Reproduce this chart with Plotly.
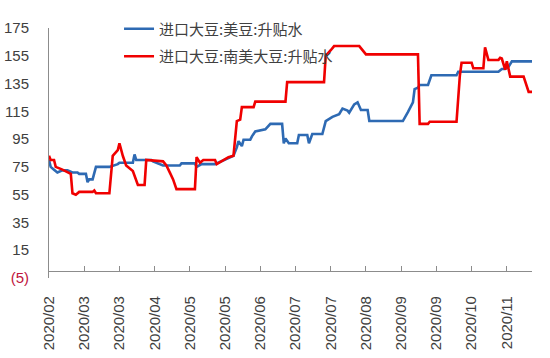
import plotly.graph_objects as go
from datetime import date, timedelta

# ---- data ----
us_name = "进口大豆:美豆:升贴水"
sa_name = "进口大豆:南美大豆:升贴水"

us_dates = [
    "2020-02-10", "2020-02-11", "2020-02-13", "2020-02-15", "2020-02-18", "2020-02-21",
    "2020-02-24", "2020-02-27", "2020-02-28", "2020-03-03", "2020-03-04", "2020-03-05",
    "2020-03-07", "2020-03-09", "2020-03-17", "2020-03-22", "2020-03-23", "2020-03-31",
    "2020-04-01", "2020-04-02", "2020-04-11", "2020-04-12", "2020-04-18", "2020-04-28",
    "2020-04-29", "2020-05-07", "2020-05-08", "2020-05-11", "2020-05-19", "2020-05-21",
    "2020-05-24", "2020-05-28", "2020-05-30", "2020-06-01", "2020-06-02", "2020-06-04",
    "2020-06-05", "2020-06-09", "2020-06-10", "2020-06-12", "2020-06-15", "2020-06-18",
    "2020-06-21", "2020-06-28", "2020-06-29", "2020-06-30", "2020-07-02", "2020-07-07",
    "2020-07-08", "2020-07-13", "2020-07-14", "2020-07-16", "2020-07-22", "2020-07-24",
    "2020-07-28", "2020-08-01", "2020-08-03", "2020-08-06", "2020-08-07", "2020-08-10",
    "2020-08-12", "2020-08-14", "2020-08-18", "2020-08-19", "2020-09-08", "2020-09-10",
    "2020-09-11", "2020-09-14", "2020-09-15", "2020-09-17", "2020-09-18", "2020-09-23",
    "2020-09-25", "2020-10-10", "2020-10-11", "2020-11-04", "2020-11-06", "2020-11-08",
    "2020-11-10", "2020-11-12", "2020-11-24",
]
us_values = [
    80, 75, 73, 71, 72.5, 72.5,
    71, 71, 70, 70, 64, 66,
    66, 75, 75, 77, 78, 78,
    84, 80, 80, 79, 76, 76,
    77.5, 77.5, 75, 77, 77, 78,
    79.5, 82, 83, 89, 93.5, 90,
    94.5, 94.5, 97, 100.5, 101.5, 102,
    106, 106, 92, 95.5, 92, 92,
    98, 98, 92, 98.7, 98.7, 108,
    111, 113, 117, 115.5, 114, 120,
    121.5, 116, 116, 108, 108, 112,
    114.5, 121.5, 131, 132, 134, 134,
    141, 141, 143.5, 143.5, 145.5, 145.5,
    147, 151, 151,
]

sa_dates = [
    "2020-02-10", "2020-02-11", "2020-02-13", "2020-02-14", "2020-02-18", "2020-02-21",
    "2020-02-23", "2020-02-24", "2020-02-26", "2020-02-28", "2020-03-07", "2020-03-08",
    "2020-03-09", "2020-03-17", "2020-03-18", "2020-03-19", "2020-03-22", "2020-03-23",
    "2020-03-25", "2020-03-27", "2020-03-31", "2020-04-02", "2020-04-03", "2020-04-07",
    "2020-04-08", "2020-04-18", "2020-04-20", "2020-04-22", "2020-04-24", "2020-04-26",
    "2020-05-07", "2020-05-08", "2020-05-10", "2020-05-12", "2020-05-19", "2020-05-20",
    "2020-05-24", "2020-05-27", "2020-05-30", "2020-06-01", "2020-06-03", "2020-06-04",
    "2020-06-11", "2020-06-12", "2020-06-30", "2020-07-01", "2020-07-23", "2020-07-24",
    "2020-07-27", "2020-07-29", "2020-08-13", "2020-08-15", "2020-08-17", "2020-09-17",
    "2020-09-18", "2020-09-23", "2020-09-24", "2020-10-10", "2020-10-12", "2020-10-13",
    "2020-10-19", "2020-10-20", "2020-10-26", "2020-10-27", "2020-10-29", "2020-11-04",
    "2020-11-05", "2020-11-06", "2020-11-08", "2020-11-09", "2020-11-11", "2020-11-19",
    "2020-11-22", "2020-11-24",
]
sa_values = [
    83, 80, 80, 75, 73, 71,
    70, 56, 55, 57, 57, 58,
    56, 56, 68, 83, 87, 92,
    83, 76, 72, 65, 62, 62,
    80, 79, 76, 71, 66, 59,
    59, 82, 78, 80, 80, 77,
    80, 82, 83, 108, 109, 118,
    118, 122, 122, 136, 136, 155,
    159, 162, 162, 159, 156, 156,
    106, 106, 107.5, 107.5, 141, 150,
    150, 146, 146, 161, 152, 152,
    153.5, 153, 145, 151, 140, 140,
    129, 129,
]

y_tick_values = [-5, 15, 35, 55, 75, 95, 115, 135, 155, 175]
y_tick_labels = ["<span style='color:#C0143C'>(5)</span>", "15", "35", "55", "75",
                 "95", "115", "135", "155", "175"]

x_start = date(2020, 2, 10)
x_end = date(2020, 11, 24)
x_tick_step_days = 21
x_tick_values = []
d = x_start
while d <= x_end:
    x_tick_values.append(d.isoformat())
    d += timedelta(days=x_tick_step_days)
x_tick_labels = [v[:7].replace("-", "/") for v in x_tick_values]

# ---- figure ----
BLUE = "#2E6AB3"
RED = "#F00000"
TEXT = "#404040"
AXIS = "#8C8C8C"
FONT = "Liberation Sans, Arial, sans-serif"
CJK = "Noto Sans CJK SC, sans-serif"

fig = go.Figure()
fig.add_trace(go.Scatter(x=us_dates, y=us_values, mode="lines", name=us_name,
                         legendgroup="a", line=dict(color=BLUE, width=2.6)))
fig.add_trace(go.Scatter(x=sa_dates, y=sa_values, mode="lines", name=sa_name,
                         legendgroup="b", line=dict(color=RED, width=2.6)))

fig.update_layout(
    width=550, height=358,
    margin=dict(l=49, r=18, t=22, b=79.5),
    paper_bgcolor="white", plot_bgcolor="white",
    font=dict(family=FONT, size=15, color=TEXT),
    showlegend=True,
    legend=dict(x=0.145, y=1.062, xanchor="left", yanchor="top",
                bgcolor="rgba(0,0,0,0)", font=dict(family=CJK, size=15, color=TEXT),
                tracegroupgap=5, itemwidth=30),
    xaxis=dict(
        type="date", range=[x_start.isoformat(), x_end.isoformat()],
        tickmode="array", tickvals=x_tick_values, ticktext=x_tick_labels,
        tickangle=-90, ticks="inside", ticklen=5, tickcolor=AXIS, tickwidth=1,
        showline=True, linecolor=AXIS, linewidth=1, showgrid=False, zeroline=False,
        anchor="free", position=5 / 180, ticklabelstandoff=18, automargin=False,
        tickfont=dict(family=FONT, size=15, color=TEXT),
    ),
    yaxis=dict(
        range=[-5, 175], tickmode="array", tickvals=y_tick_values, ticktext=y_tick_labels,
        showline=True, linecolor=AXIS, linewidth=1, showgrid=False, zeroline=False,
        ticks="", ticklabelstandoff=16, automargin=False,
        tickfont=dict(family=FONT, size=15, color=TEXT),
    ),
)

fig.write_html("out.html",
               config={"displayModeBar": False},
               post_script="document.body.style.margin='0';document.body.style.overflow='hidden';")
